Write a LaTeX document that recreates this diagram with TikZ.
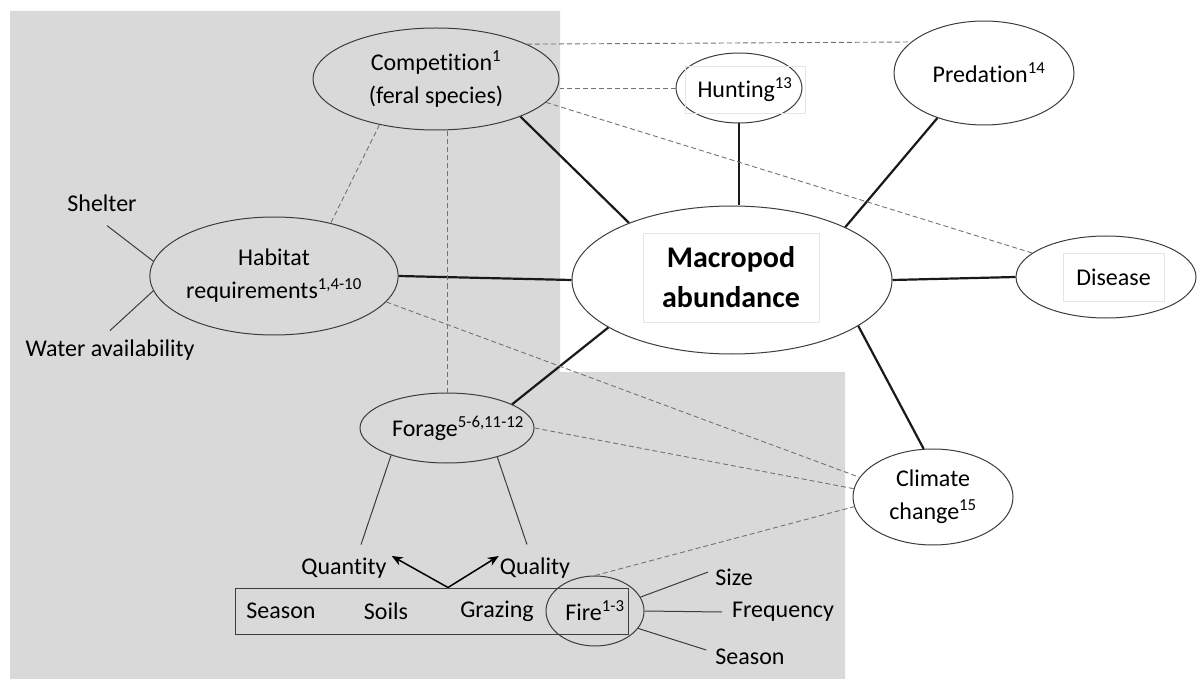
\documentclass[tikz,border=0pt]{standalone}
\usepackage{fontspec}
\setmainfont[Ligatures=NoCommon]{Carlito}
\usetikzlibrary{shapes.geometric,arrows.meta}
\definecolor{backgray}{RGB}{217,217,217}
\definecolor{rim}{RGB}{60,60,60}
\begin{document}
\begin{tikzpicture}[x=1pt, y=-1pt, line join=round, >={Stealth[length=11pt,width=9pt]},
		font=\fontsize{24}{33}\selectfont,
		factor/.style={ellipse, draw=rim, line width=1pt, inner sep=0pt, align=center},
		textbox/.style={draw=black!10, line width=0.6pt, inner sep=0pt, align=center},
		strong/.style={line width=2.2pt, black!90},
		twig/.style={line width=1pt, rim},
		link/.style={line width=0.9pt, black!55, dash pattern=on 5pt off 3pt}]
		\useasboundingbox (0,0) rectangle (1200,679);
		\fill[backgray] (10,11) -- (560,11) -- (560,372) -- (845,372) -- (845,679) -- (10,679) -- cycle;
		% factors
		\node[factor, fill=backgray, minimum width=246, minimum height=102] (comp) at (436,79) {Competition\textsuperscript{1}\\(feral species)};
		\node[factor, fill=white, minimum width=126, minimum height=70] (hunt) at (739,88) {};
		\node[textbox, minimum width=120, minimum height=47] (hunttext) at (745,89.5) {Hunting\textsuperscript{13}};
		\node[factor, fill=white, minimum width=180, minimum height=104] (pred) at (984,73) {\hspace{10pt}Predation\textsuperscript{14}};
		\node[factor, fill=white, minimum width=320, minimum height=148] (macro) at (732,280) {};
		\node[textbox, minimum width=176, minimum height=89, font=\fontsize{30}{40}\selectfont\bfseries] (macrotext) at (731,277.5) {Macropod\\abundance};
		\node[factor, fill=white, minimum width=180, minimum height=82] (dis) at (1106,277) {};
		\node[textbox, minimum width=101, minimum height=48] (distext) at (1113.5,277) {Disease};
		\node[factor, fill=backgray, minimum width=230, minimum height=118] (hab) at (274,276) {Habitat\\requirements\textsuperscript{1,4-10}};
		\node[factor, fill=backgray, minimum width=174, minimum height=70] (forage) at (447,428) {};
		\node[inner sep=1pt] (foragetext) at (458,428) {Forage\textsuperscript{5-6,11-12}};
		\node[factor, fill=white, minimum width=160, minimum height=96] (clim) at (933,497) {Climate\\change\textsuperscript{15}};
		% loose words
		\node[inner sep=1pt] (shelter) at (102,203) {Shelter};
		\node[inner sep=1pt] (water) at (110,350) {Water availability};
		\node[inner sep=1pt] (quantity) at (344,568) {Quantity};
		\node[inner sep=1pt] (quality) at (535,568) {Quality};
		\node[draw=rim, line width=1pt, inner sep=0pt, minimum width=393, minimum height=46] (drivers) at (431.5,611) {};
		\foreach \w/\x/\n in {Season/281/season, Soils/386/soils, Grazing/497/grazing}
			\node[inner sep=1pt] (\n) at (\x,611) {\w};
		\node[factor, minimum width=98, minimum height=70] (fire) at (595,611) {Fire\textsuperscript{1-3}};
		\node[inner sep=1pt] (size) at (734,577) {Size};
		\node[inner sep=1pt] (freq) at (783,612) {Frequency};
		\node[inner sep=1pt] (season2) at (750,657) {Season};
		% strong links to abundance
		\draw[strong] (comp.-24) -- (macro.151.5);
		\draw[strong] (hunt.south) -- (hunt.south |- macro.north);
		\draw[strong] (pred.224) -- (macro.25.5);
		\draw[strong] (hab.east) -- (macro.west);
		\draw[strong] (macro.east) -- (dis.west);
		\draw[strong] (forage.20) -- (macro.201);
		\draw[strong] (macro.-20) -- (clim.101);
		% dashed interactions
		\draw[link] (comp.21) -- (pred.157);
		\draw[link] (hunt.west) -- (hunt.west -| comp.east);
		\draw[link] (comp.-12) -- (dis.162);
		\draw[link] (comp.219.5) -- (hab.43);
		\draw[link] (forage.north) -- (forage.north |- comp.south);
		\draw[link] (hab.-13.5) -- (clim.165);
		\draw[link] (forage.east) -- (clim.174);
		\draw[link] (fire.north) -- (clim.-173);
		% components
		\draw[twig] ([shift={(5pt,-13pt)}]shelter.south) -- (hab.173);
		\draw[twig] ([yshift=8pt]water.north) -- (hab.187);
		\draw[twig] (forage.206) -- ([shift={(17pt,12pt)}]quantity.north);
		\draw[twig] (forage.-30) -- ([shift={(-8pt,12pt)}]quality.north);
		\draw[twig] (fire.17) -- ([shift={(-6pt,5pt)}]size.west);
		\draw[twig] (fire.east) -- ([xshift=-9pt]freq.west);
		\draw[twig] (fire.-22) -- ([shift={(-8pt,7pt)}]season2.west);
		\coordinate (split) at ([xshift=16.5pt]drivers.north);
		\draw[->, line width=1.5pt] (split) -- ([shift={(4pt,12pt)}]quantity.east);
		\draw[->, line width=1.5pt] (split) -- ([yshift=12pt]quality.west);
	\end{tikzpicture}
\end{document}
